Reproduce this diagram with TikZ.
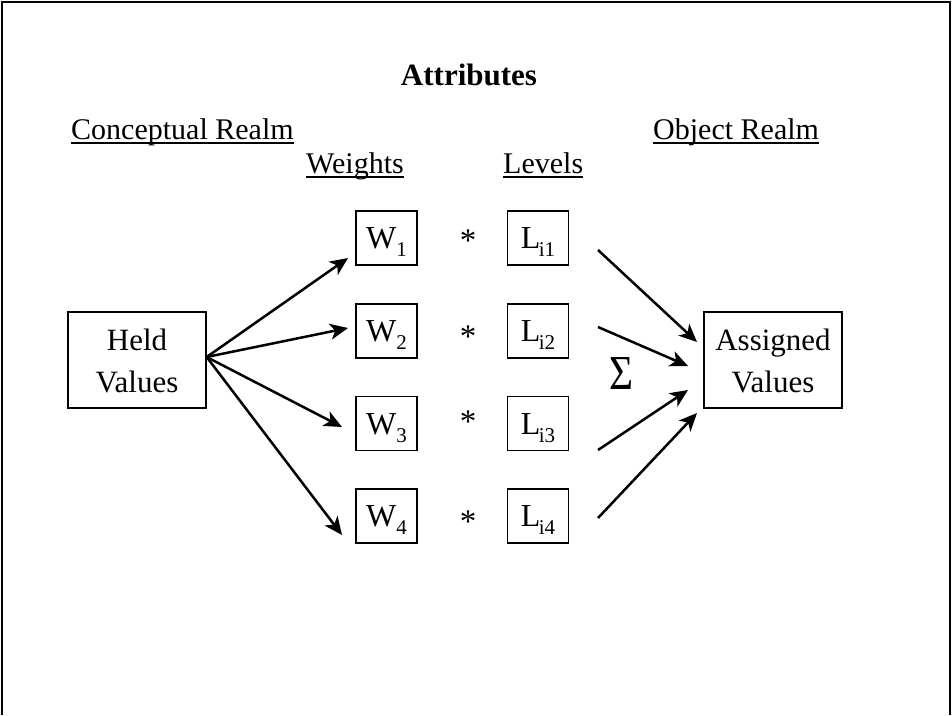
\documentclass[tikz,border=0pt]{standalone}
\usepackage{fontspec}
\setmainfont{Liberation Serif}
\usetikzlibrary{arrows.meta}
\newcommand\sbs[1]{\raisebox{-8pt}{\fontsize{21}{21}\selectfont #1}}
\begin{document}
\begin{tikzpicture}[x=1pt,y=-1pt,
  box/.style={draw,line width=1.3pt,inner sep=0pt},
  small/.style={box,minimum width=61pt,minimum height=54pt,text height=21pt,text depth=0pt,font=\fontsize{32}{32}\selectfont},
  big/.style={box,minimum width=138pt,minimum height=96pt,align=center,font=\fontsize{31}{42}\selectfont},
  arr/.style={line width=2.5pt,-{Stealth[length=18pt,width=16pt,inset=5pt]}},
  lab/.style={inner sep=0pt,anchor=base west,font=\fontsize{30}{36}\selectfont},
  startxt/.style={inner sep=0pt,anchor=base,font=\fontsize{33}{36}\selectfont},
  ul/.style={line width=1.6pt},
]
\useasboundingbox (0,0) rectangle (952,715);
\draw[line width=2.5pt] (2,715) -- (2,2) -- (950,2) -- (950,715);

% titles
\node[inner sep=0pt,anchor=base,font=\bfseries\fontsize{31}{36}\selectfont] (attr) at (469,85) {Attributes};
\node[lab] (cr) at (71,139) {Conceptual Realm};
\node[lab] (or) at (653,139) {Object Realm};
\node[lab] (wt) at (306,173) {Weights};
\node[lab] (lv) at (503,173) {Levels};
\foreach \n in {cr,or,wt,lv}
  \draw[ul] ([yshift=-4pt]\n.base west) -- ([yshift=-4pt]\n.base east);

% big boxes
\node[big] (held) at (137,360) {\rule{0pt}{24pt}Held\\Values};
\node[big] (assigned) at (773,360) {\rule{0pt}{24pt}Assigned\\Values};

% weights and levels
\node[small] (w1) at (386.5,238) {W\sbs{1}};
\node[small] (w2) at (386.5,331) {W\sbs{2}};
\node[small] (w3) at (386.5,423.5) {W\sbs{3}};
\node[small] (w4) at (386.5,516) {W\sbs{4}};
\node[small] (l1) at (538,238) {L\kern-1.5pt\sbs{i1}};
\node[small] (l2) at (538,331) {L\kern-1.5pt\sbs{i2}};
\node[small] (l3) at (538,423.5) {L\kern-1.5pt\sbs{i3}};
\node[small] (l4) at (538,516) {L\kern-1.5pt\sbs{i4}};
\node[startxt] (s1) at (468,251) {*};
\node[startxt] (s2) at (468,347.5) {*};
\node[startxt] (s3) at (468,432) {*};
\node[startxt] (s4) at (468,532) {*};

% sigma
\node[inner sep=0pt] (sig) at (621,373) {\resizebox{24pt}{32pt}{Σ}};

% arrows from held values
\coordinate (hs) at ([yshift=3pt]held.east);
\coordinate (e1) at (348,258);
\coordinate (e2) at (348,328);
\coordinate (e3) at (342,427);
\coordinate (e4) at (342,535);
\foreach \e in {e1,e2,e3,e4}
  \draw[arr] (hs) -- (\e);

% arrows into assigned values
\coordinate (r1) at (598,250);
\coordinate (r2) at (598,327);
\coordinate (r3) at (598,450);
\coordinate (r4) at (598,518);
\coordinate (t1) at (697,342);
\coordinate (t2) at (688,366);
\coordinate (t3) at (688,390);
\coordinate (t4) at (697,413);
\draw[arr] (r1) -- (t1);
\draw[arr] (r2) -- (t2);
\draw[arr] (r3) -- (t3);
\draw[arr] (r4) -- (t4);
\end{tikzpicture}
\end{document}
